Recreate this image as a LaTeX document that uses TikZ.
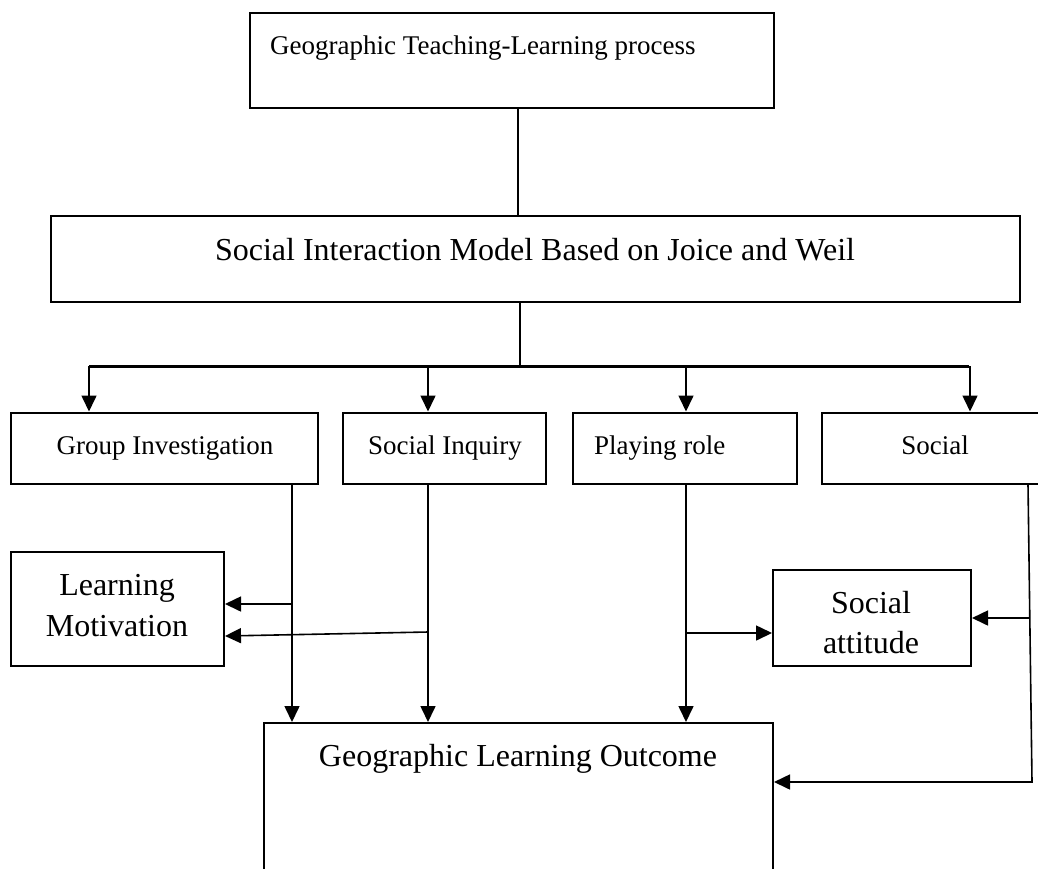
\documentclass[tikz,border=0pt]{standalone}
\usepackage{fontspec}
\setmainfont{Liberation Serif}
\usetikzlibrary{arrows.meta}
\begin{document}
\begin{tikzpicture}[x=1pt,y=-1pt,
  box/.style={draw, line width=2pt, rectangle, inner sep=0pt},
  conn/.style={line width=1.6pt},
  bus/.style={line width=3pt},
  arr/.style={line width=1.6pt, -{Triangle[length=16pt,width=15pt]}},
  small/.style={font=\fontsize{27}{32}\selectfont, inner sep=0pt},
  big/.style={font=\fontsize{32}{40}\selectfont, inner sep=0pt, align=center}]
\useasboundingbox (0,0) rectangle (1038,868);
% boxes
\node[box, minimum width=524pt, minimum height=95pt] (top) at (512,60.5) {};
\node[box, minimum width=969pt, minimum height=86pt] (sim) at (535.5,259) {};
\node[box, minimum width=307pt, minimum height=71pt] (gi) at (164.5,448) {};
\node[box, minimum width=203pt, minimum height=71pt] (si) at (444.5,448) {};
\node[box, minimum width=224pt, minimum height=71pt] (pr) at (685,448) {};
\node[box, minimum width=230pt, minimum height=71pt] (soc) at (937,448) {};
\node[box, minimum width=213pt, minimum height=114pt] (lm) at (117.5,609) {};
\node[box, minimum width=198pt, minimum height=96pt] (sa) at (872,618) {};
\node[box, minimum width=509pt, minimum height=170pt] (outc) at (518.5,808) {};
% texts
\node[small, anchor=base west] (ttop) at (270,54) {Geographic Teaching-Learning process};
\node[big, anchor=base] (tsim) at (535,260) {Social Interaction Model Based on Joice and Weil};
\node[small, anchor=base] (tgi) at (165,454) {Group Investigation};
\node[small, anchor=base] (tsi) at (445,454) {Social Inquiry};
\node[small, anchor=base west] (tpr) at (594,454) {Playing role};
\node[small, anchor=base] (tsoc) at (935,454) {Social};
\node[big, anchor=base] (tlm1) at (117,595) {Learning};
\node[big, anchor=base] (tlm2) at (117,636) {Motivation};
\node[big, anchor=base] (tsa1) at (871,613) {Social};
\node[big, anchor=base] (tsa2) at (871,653) {attitude};
\node[big, anchor=base] (toutc) at (518,766) {Geographic Learning Outcome};
% helper coordinates
\coordinate (x518) at (518,0);
\coordinate (j) at (520,366);
\coordinate (busL) at (89,366);
\coordinate (busR) at (969,366);
\coordinate (b428) at (428,366);
\coordinate (b686) at (686,366);
\coordinate (b970) at (970,366);
\coordinate (x292) at (292,0);
\coordinate (x428) at (428,0);
\coordinate (x686) at (686,0);
\coordinate (x1028) at (1028,0);
\coordinate (g604) at (292,604);
\coordinate (s632) at (428,632);
\coordinate (y636) at (0,636);
\coordinate (p633) at (686,633);
\coordinate (r618) at (1029.8,618);
\coordinate (rc) at (1032,782);
% connectors
\draw[conn] (top.south -| x518) -- (sim.north -| x518);
\draw[conn] (sim.south -| j) -- (j);
\draw[bus] (busL) -- (busR);
\draw[arr] (busL) -- (gi.north -| busL);
\draw[arr] (b428) -- (si.north -| b428);
\draw[arr] (b686) -- (pr.north -| b686);
\draw[arr] (b970) -- (soc.north -| b970);
\draw[arr] (gi.south -| x292) -- (outc.north -| x292);
\draw[arr] (si.south -| x428) -- (outc.north -| x428);
\draw[arr] (pr.south -| x686) -- (outc.north -| x686);
\draw[arr] (g604) -- (lm.east |- g604);
\draw[arr] (s632) -- (lm.east |- y636);
\draw[arr] (p633) -- (sa.west |- p633);
\draw[arr] (r618) -- (sa.east |- r618);
\draw[arr] (soc.south -| x1028) -- (rc) -- (outc.east |- rc);
\end{tikzpicture}
\end{document}
